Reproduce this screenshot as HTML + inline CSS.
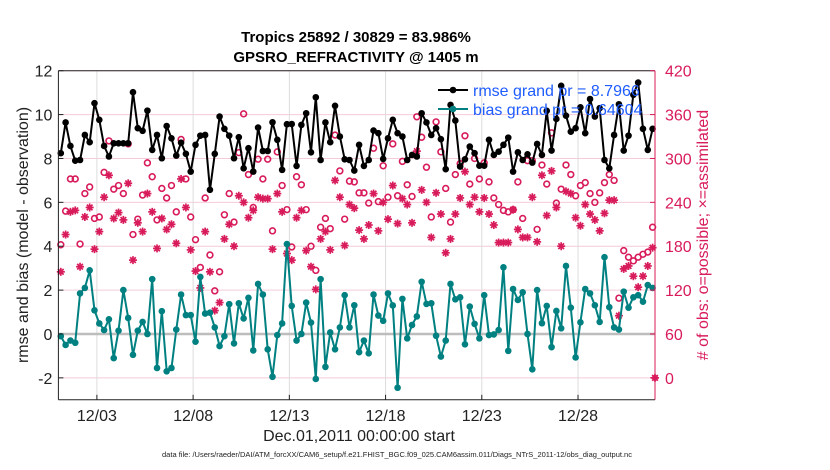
<!DOCTYPE html>
<html><head><meta charset="utf-8"><style>
body{margin:0;background:#fff;}
svg{display:block;font-family:"Liberation Sans",Arial,sans-serif;}
</style></head><body>
<svg id="chart" width="830" height="470" viewBox="0 0 830 470">
<text x="356" y="42" text-anchor="middle" font-size="15" font-weight="bold">Tropics 25892 / 30829 = 83.986%</text>
<text x="356" y="62" text-anchor="middle" font-size="15" font-weight="bold">GPSRO_REFRACTIVITY @ 1405 m</text>
<g id="grid"></g>
<g id="marks"></g>
<g id="axes"></g>
<text transform="translate(28,235) rotate(-90)" text-anchor="middle" font-size="16" fill="#222">rmse and bias (model - observation)</text>
<text transform="translate(708,235) rotate(-90)" text-anchor="middle" font-size="16" fill="#d81b5a"># of obs: o=possible; ×=assimilated</text>
<text x="359" y="441" text-anchor="middle" font-size="16" fill="#222">Dec.01,2011 00:00:00 start</text>
<text x="397" y="457" text-anchor="middle" font-size="7.5" fill="#222">data file: /Users/raeder/DAI/ATM_forcXX/CAM6_setup/f.e21.FHIST_BGC.f09_025.CAM6assim.011/Diags_NTrS_2011-12/obs_diag_output.nc</text>
<g>
<g>
<line x1="438" y1="90" x2="468" y2="90" stroke="#000" stroke-width="2"/><circle cx="453" cy="90" r="3.3" fill="#000"/>
<text x="473" y="96" font-size="16" fill="#1f5cff">rmse grand pr = 8.7966</text></g>
<g>
<line x1="438" y1="109" x2="468" y2="109" stroke="#008080" stroke-width="2"/><circle cx="453" cy="109" r="3.3" fill="#008080"/>
<text x="473" y="115" font-size="16" fill="#1f5cff">bias grand pr = 0.64604</text></g>
</g>
</svg>
<script>
const dateTicks = [2,7,12,17,22,27];
const dateLabels = ["12/03","12/08","12/13","12/18","12/23","12/28"];
const leftTicks = [-2,0,2,4,6,8,10,12];
const rightTicks = [0,60,120,180,240,300,360,420];
const rmse = [8.24,9.64,8.57,7.9,7.93,9.07,8.74,10.52,9.76,8.57,8.09,8.69,8.69,8.69,8.69,11.02,9.38,9.26,10.18,8.39,9.07,8.01,9.48,8.92,8.13,8.72,8.21,7.4,8.62,9.04,9.07,6.57,8.21,9.91,9.35,9.04,8.01,8.97,7.55,8.47,7.4,9.41,8.34,8.34,9.65,8.85,7.48,9.56,9.57,7.66,9.53,10.06,8.28,10.79,7.93,9.64,8.74,10.4,9.0,7.96,7.93,7.45,8.62,7.66,7.93,9.27,9.15,7.98,8.92,9.76,9.15,9.0,7.93,8.16,8.09,10.06,9.64,9.07,9.38,8.88,7.51,10.44,9.73,7.63,7.96,8.54,8.24,7.67,7.67,8.85,8.16,8.31,8.62,8.95,7.4,8.28,7.93,8.19,7.81,8.66,8.16,10.17,8.36,9.8,11.31,9.95,9.22,9.38,10.33,9.15,10.71,9.91,10.29,7.93,7.55,9.07,10.47,8.36,9.04,10.9,11.46,9.35,8.39,9.35];
const bias = [-0.1,-0.5,-0.3,-0.4,1.85,2.1,2.9,1.08,0.48,0.18,0.67,-1.1,0.15,2.0,0.73,-0.95,0.15,0.55,0,2.5,-1.55,1.04,-1.7,-1.55,0.2,1.8,0.86,0.86,-0.35,2.6,0.93,0.97,0.3,-0.55,-0.1,1.36,-0.43,1.4,0.71,1.65,-0.75,2.28,1.8,-0.7,-1.95,-0.05,0.48,4.1,1.28,-0.3,0,1.43,0.52,-2.05,2.5,-1.5,0.07,-0.7,0.3,1.77,0.3,1.31,-0.83,-0.3,-0.88,1.8,0.84,0.6,1.85,1.3,-2.45,1.6,-0.2,0.41,0.8,2.38,1.37,1.4,-0.08,-1.03,-0.3,2.28,1.58,1.67,-0.47,1.25,0.46,-0.2,1.77,-0.05,-0.02,0.18,3.04,-0.77,2.05,1.55,1.9,0,-1.61,2.0,0.49,1.28,-0.6,1.05,0.26,3.1,1.2,-1.07,0.53,2.05,1.85,1.31,0.55,3.5,1.22,0.3,0.2,1.93,1.2,1.67,1.77,1.47,2.23,2.1];
const possible = [182,228,272,272,183,252,261,218,220,281,324,258,263,252,320,196,217,250,294,275,216,259,246,263,227,326,272,220,189,151,246,168,119,145,223,252,213,308,361,278,233,299,272,299,201,309,263,230,179,275,264,230,180,147,206,218,204,332,283,217,269,268,253,253,239,314,241,290,247,320,249,296,264,248,357,329,288,220,350,309,259,213,278,293,331,265,300,272,294,268,246,237,229,227,230,268,218,297,297,203,291,265,335,239,258,291,278,249,263,267,252,240,253,267,278,270,109,174,165,160,165,169,172,206];
const assimilated = [145,196,227,229,152,220,233,176,200,247,277,218,226,216,266,161,212,200,252,227,177,218,203,210,184,272,233,175,146,123,200,145,92,103,190,210,180,249,240,219,229,247,245,245,176,252,227,170,161,219,229,174,152,121,190,200,175,270,247,181,237,232,202,190,209,252,201,240,217,263,211,245,237,212,310,257,240,192,253,224,171,190,224,246,282,237,247,227,246,224,209,185,185,185,230,203,192,192,247,186,277,222,283,233,180,255,252,219,208,237,224,216,201,225,243,243,85,149,153,139,124,139,153,178];

const NS='http://www.w3.org/2000/svg';
const X0=58.4, X1=655, Y0=70.7, Y1=399.8;
const xS = d => X0 + d*(X1-X0)/31;
const yL = v => Y1 - (v+3)*(Y1-Y0)/15;
const yR = c => yL(c/30 - 2);
const tOf = i => 0.125 + 0.25*i;
const RED='#d81b5a', TEAL='#008080';
function mk(parent,tag,attrs){const e=document.createElementNS(NS,tag);for(const k in attrs)e.setAttribute(k,attrs[k]);parent.appendChild(e);return e;}
const grid=document.getElementById('grid'), marks=document.getElementById('marks'), axes=document.getElementById('axes');

rightTicks.forEach(c=>{const l=mk(grid,'line',{x1:X0,x2:X1,y1:yR(c),y2:yR(c),stroke:'#f4cbd9','stroke-width':1});

});
dateTicks.forEach(d=>{const l=mk(grid,'line',{x1:xS(d),x2:xS(d),y1:Y0,y2:Y1,stroke:'#dcdcdc','stroke-width':1});

});
const z=mk(grid,'line',{x1:X0,x2:X1,y1:yL(0),y2:yL(0),stroke:'#bdbdbd','stroke-width':2.5});



// possible circles
possible.forEach((c,i)=>{const e=mk(marks,'circle',{cx:xS(tOf(i)),cy:yR(c),r:2.9,fill:'none',stroke:RED,'stroke-width':1.6});

});
// assimilated asterisks
function star(g,x,y){for(let a=0;a<4;a++){const an=a*Math.PI/4;mk(g,'line',{x1:x-4*Math.cos(an),y1:y-4*Math.sin(an),x2:x+4*Math.cos(an),y2:y+4*Math.sin(an),stroke:RED,'stroke-width':1.7});}}
assimilated.forEach((c,i)=>{const g=mk(marks,'g',{});


star(g,xS(tOf(i)),yR(c));});
function series(arr,color,name){
 const pts=arr.map((v,i)=>xS(tOf(i)).toFixed(1)+','+yL(v).toFixed(1)).join(' ');
 const pl=mk(marks,'polyline',{points:pts,fill:'none',stroke:color,'stroke-width':2,'stroke-linejoin':'round'});
 
 
 arr.forEach((v,i)=>{const c=mk(marks,'circle',{cx:xS(tOf(i)),cy:yL(v),r:3.3,fill:color});
 
 });
}
series(rmse,'#000','rmse');
series(bias,TEAL,'bias');
const zm=mk(marks,'g',{});


mk(zm,'circle',{cx:X1,cy:yR(0),r:3,fill:RED});star(zm,X1,yR(0));

// axes
mk(axes,'line',{x1:X0,x2:X1,y1:Y0,y2:Y0,stroke:'#222','stroke-width':1});
mk(axes,'line',{x1:X0,x2:X1,y1:Y1,y2:Y1,stroke:'#222','stroke-width':1});
mk(axes,'line',{x1:X0,x2:X0,y1:Y0,y2:Y1,stroke:'#222','stroke-width':1});
mk(axes,'line',{x1:X1,x2:X1,y1:Y0,y2:Y1,stroke:RED,'stroke-width':1});
leftTicks.forEach(v=>{mk(axes,'line',{x1:X0,x2:X0+5,y1:yL(v),y2:yL(v),stroke:'#222'});
const t=mk(axes,'text',{x:X0-6,y:yL(v)+6,'text-anchor':'end','font-size':16,fill:'#222'});t.textContent=v;

});
rightTicks.forEach(c=>{mk(axes,'line',{x1:X1-5,x2:X1,y1:yR(c),y2:yR(c),stroke:RED});
const t=mk(axes,'text',{x:X1+10,y:yR(c)+6,'font-size':16,fill:RED});t.textContent=c;

});
dateTicks.forEach((d,k)=>{mk(axes,'line',{x1:xS(d),x2:xS(d),y1:Y1,y2:Y1-5,stroke:'#222'});
const t=mk(axes,'text',{x:xS(d),y:421,'text-anchor':'middle','font-size':16,fill:'#222'});t.textContent=dateLabels[k];

});
</script>
</body></html>
